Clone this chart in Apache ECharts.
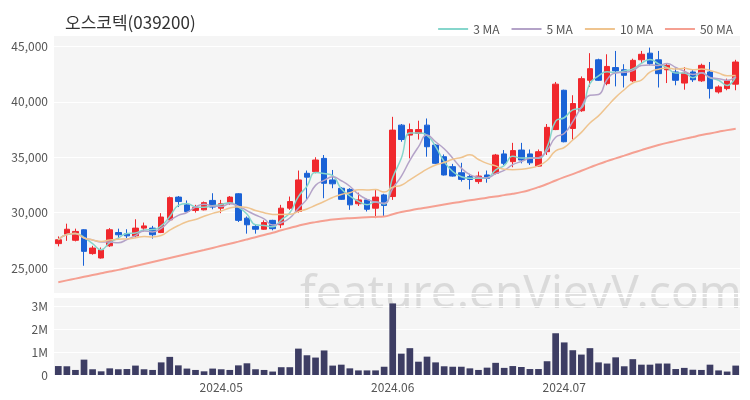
<!DOCTYPE html>
<html><head><meta charset="utf-8">
<script src="https://cdn.jsdelivr.net/npm/echarts@6/dist/echarts.min.js"></script>
<style>html,body{margin:0;padding:0;background:#fff}#c{width:750px;height:400px}</style>
</head><body><div id="c"></div>
<script>
const dates = [
'2024-04-03','2024-04-04','2024-04-05','2024-04-08','2024-04-09','2024-04-11','2024-04-12','2024-04-15','2024-04-16','2024-04-17',
'2024-04-18','2024-04-19','2024-04-22','2024-04-23','2024-04-24','2024-04-25','2024-04-26','2024-04-29','2024-04-30',
'2024-05-02','2024-05-03','2024-05-07','2024-05-08','2024-05-09','2024-05-10','2024-05-13','2024-05-14','2024-05-16','2024-05-17',
'2024-05-20','2024-05-21','2024-05-22','2024-05-23','2024-05-24','2024-05-27','2024-05-28','2024-05-29','2024-05-30','2024-05-31',
'2024-06-03','2024-06-04','2024-06-05','2024-06-06','2024-06-07','2024-06-10','2024-06-11','2024-06-12','2024-06-13','2024-06-14',
'2024-06-17','2024-06-18','2024-06-19','2024-06-20','2024-06-21','2024-06-24','2024-06-25','2024-06-26','2024-06-27','2024-06-28',
'2024-07-01','2024-07-02','2024-07-03','2024-07-04','2024-07-05','2024-07-08','2024-07-09','2024-07-10','2024-07-11','2024-07-12',
'2024-07-15','2024-07-16','2024-07-17','2024-07-18','2024-07-19','2024-07-22','2024-07-23','2024-07-24','2024-07-25','2024-07-26',
'2024-07-29'];
const opens = [27200,28050,27500,28450,26300,25900,27000,28200,28100,27900,28600,28600,28200,29350,31400,30700,30200,30250,31100,30400,
30900,31700,29500,28750,28500,29300,28900,30400,30100,33550,33700,34900,32950,32200,32100,30800,31150,30400,31600,31450,
37900,37000,37150,37900,36100,35050,34150,33600,33250,32800,33400,33550,35300,34600,35650,35300,34200,35500,37500,41050,
37600,39200,41950,43800,41650,43100,42900,41900,43800,44400,43800,42900,42700,41700,42700,41900,42700,40900,41200,41600];
const closes = [27550,28500,28300,26500,26800,26650,28450,28000,27900,28600,28800,28000,29600,31350,31000,30100,30450,30900,30500,30800,
31400,29300,28900,28500,29100,28550,30400,31000,32950,33200,34750,32650,32600,31200,30700,31150,30300,31400,30650,37450,
36600,37500,37500,35950,34450,33400,33300,33000,33000,33300,33100,35200,34450,35600,34750,34500,35500,37700,41600,36400,
39850,42100,43000,41950,43200,42800,42400,43750,44300,43450,42550,43300,41950,42600,42000,43300,41200,41350,41900,43600];
const lows = [26950,27450,27400,25200,26200,25850,26900,27650,27700,27700,28300,27650,28150,29300,30500,30000,30000,30200,30300,29950,
30700,29150,28100,28100,28450,28400,28600,30250,30000,31150,33550,31300,32200,31150,30250,30600,30100,29500,29650,31150,
36400,34900,36600,35050,34400,33350,33250,32800,32100,32600,32700,33450,34300,34100,34450,34300,34150,35200,37450,36350,
36600,39100,41350,41900,41500,41400,41300,41800,43450,43300,41300,41700,41500,41100,41800,41800,40300,40750,41050,41050];
const highs = [27850,29000,28550,28500,27000,26850,28600,28550,28500,29400,29100,28800,29950,31450,31500,31100,30700,31000,31750,31150,
31500,31750,29650,28900,29300,29350,30700,31450,33800,33800,35000,35200,33850,32300,32200,31800,31250,32050,31700,38650,
38000,38050,38300,38500,36200,35250,34400,34500,33500,33700,33800,35300,35650,36300,36300,35700,35700,38000,41800,41100,
40600,42300,44400,43900,44300,44600,43400,43900,44600,44900,44600,43450,43100,43150,42900,43450,43600,41500,42100,43800];
const volumes = [390000,380000,220000,670000,250000,160000,290000,250000,260000,410000,
250000,220000,550000,790000,420000,280000,220000,160000,280000,250000,
220000,420000,510000,250000,220000,150000,340000,340000,1150000,860000,
760000,1070000,410000,450000,290000,200000,200000,200000,360000,3120000,
930000,1170000,580000,800000,550000,380000,360000,360000,290000,220000,
320000,530000,310000,390000,350000,260000,260000,600000,1820000,1420000,
1080000,890000,1170000,550000,500000,770000,380000,690000,450000,450000,
500000,500000,260000,310000,230000,220000,450000,200000,150000,410000];
const ma50 = [23720,23880,24040,24200,24360,24520,24680,24830,25000,25180,25360,25540,25720,25900,26080,26260,26440,26620,26810,27000,
27190,27380,27580,27780,27980,28180,28400,28610,28820,29000,29140,29260,29380,29450,29500,29540,29580,29610,29650,29850,
30050,30200,30340,30470,30600,30730,30860,30990,31110,31230,31350,31460,31580,31700,31850,32050,32300,32580,32900,33200,
33480,33780,34080,34380,34650,34900,35150,35400,35640,35880,36100,36300,36480,36660,36830,37000,37150,37300,37450,37580];
const monthTicks = ['2024.05','2024.06','2024.07'];

function movingAvg(n){
  return closes.map((_, i) => {
    const s = Math.max(0, i - n + 1);
    let sum = 0;
    for (let k = s; k <= i; k++) sum += closes[k];
    return Math.round(sum / (i - s + 1));
  });
}
const candleData = opens.map((o, i) => [o, closes[i], lows[i], highs[i]]);
const firstOfMonth = dates.map((d, i) => i > 0 && d.slice(0,7) !== dates[i-1].slice(0,7));
const UP = '#f0282d', DOWN = '#1a62d6';
const FONT = "'Noto Sans CJK KR', 'Noto Sans', sans-serif";

const chart = echarts.init(document.getElementById('c'), null, {renderer: 'canvas'});
chart.setOption({
  animation: false,
  backgroundColor: '#ffffff',
  textStyle: {fontFamily: FONT},
  title: {text: '오스코텍(039200)', left: 60, top: 9,
    textStyle: {fontSize: 17, fontWeight: 'normal', color: '#333', fontFamily: FONT}},
  legend: {
    data: ['3 MA','5 MA','10 MA','50 MA'], right: 12, top: 18,
    icon: 'rect', itemWidth: 30, itemHeight: 2, itemGap: 12,
    textStyle: {fontSize: 12, color: '#555', fontFamily: FONT}
  },
  graphic: [{
    type: 'text', left: 300, top: 272, z: 0, silent: true,
    style: {text: 'feature.enVievV.com', fontSize: 46, fontFamily: "'Noto Sans', sans-serif",
      fill: 'rgba(170,170,170,0.35)'}
  }],
  grid: [
    {left: 54, right: 10, top: 35, height: 258, show: true, backgroundColor: '#f5f5f5', borderWidth: 0},
    {left: 54, right: 10, top: 297, height: 78, show: true, backgroundColor: '#f5f5f5', borderWidth: 0}
  ],
  xAxis: [
    {type: 'category', data: dates, gridIndex: 0, boundaryGap: true,
      axisLine: {show: false}, axisTick: {show: false}, axisLabel: {show: false}, splitLine: {show: false}},
    {type: 'category', data: dates, gridIndex: 1, boundaryGap: true,
      axisLine: {show: false}, axisTick: {show: false}, splitLine: {show: false},
      axisLabel: {interval: (i) => firstOfMonth[i], color: '#555', fontSize: 12, margin: 6,
        formatter: (v) => monthTicks.find(m => m === v.slice(0,7).replace('-', '.')) || ''}}
  ],
  yAxis: [
    {type: 'value', gridIndex: 0, min: 22740, max: 46040, splitNumber: 5, scale: true,
      axisLine: {show: false}, axisTick: {show: false},
      splitLine: {lineStyle: {color: '#ffffff', width: 1}},
      axisLabel: {showMinLabel: false, showMaxLabel: false, color: '#555', fontSize: 12, margin: 6,
        formatter: (v) => v.toLocaleString('en-US')}},
    {type: 'value', gridIndex: 1, min: 0, max: 3400000, interval: 1000000,
      axisLine: {show: false}, axisTick: {show: false},
      splitLine: {lineStyle: {color: '#ffffff', width: 1}},
      axisLabel: {showMaxLabel: false, color: '#555', fontSize: 12, margin: 6,
        formatter: (v) => v === 0 ? '0' : (v / 1e6) + 'M'}}
  ],
  series: [
    {name: 'candle', type: 'candlestick', xAxisIndex: 0, yAxisIndex: 0, data: candleData, barWidth: '70%',
      itemStyle: {color: UP, color0: DOWN, borderColor: UP, borderColor0: DOWN, borderWidth: 1}},
    {name: '3 MA', type: 'line', data: movingAvg(3), symbol: 'none', smooth: true,
      lineStyle: {width: 1.5, color: '#86d6cc'}, itemStyle: {color: '#86d6cc'}},
    {name: '5 MA', type: 'line', data: movingAvg(5), symbol: 'none', smooth: true,
      lineStyle: {width: 1.5, color: '#b4a3c8'}, itemStyle: {color: '#b4a3c8'}},
    {name: '10 MA', type: 'line', data: movingAvg(10), symbol: 'none', smooth: true,
      lineStyle: {width: 1.5, color: '#efc48f'}, itemStyle: {color: '#efc48f'}},
    {name: '50 MA', type: 'line', data: ma50, symbol: 'none', smooth: true,
      lineStyle: {width: 2, color: '#f5a092'}, itemStyle: {color: '#f5a092'}},
    {name: 'volume', type: 'bar', xAxisIndex: 1, yAxisIndex: 1, data: volumes, barWidth: '78%',
      itemStyle: {color: '#3d3d63'}}
  ]
});
</script></body></html>
